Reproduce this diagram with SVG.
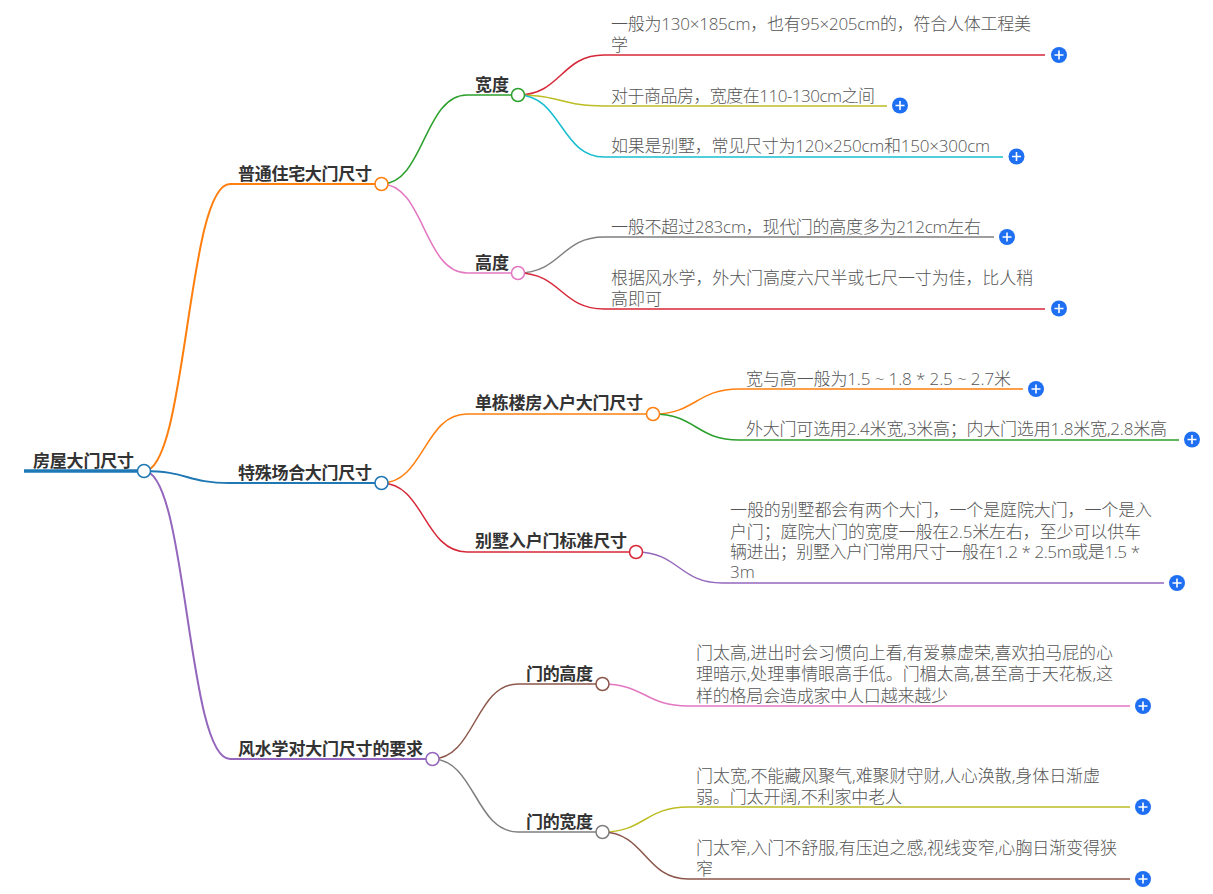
<svg xmlns="http://www.w3.org/2000/svg" width="1213" height="894" viewBox="0 0 1213 894">
<style>
text{font-family:"Open Sans","Noto Sans CJK SC",sans-serif;fill:#333}
.b{font-size:17px;font-weight:700}
.l{font-size:17px;font-weight:300;fill:#555}
.c path{fill:none;stroke-width:1.5}
.k{fill:#fff;stroke-width:1.5}
.p{fill:#1f6ff2}
.w{stroke:#fff;stroke-width:1.6;fill:none}
</style>
<defs><g id="plus"><circle class="p" r="8"/><path class="w" d="M-4.5 0H4.5M0 -4.5V4.5"/></g></defs>
<g id="connectors" class="c">
<path d="M24 471H144" stroke="#1f77b4" style="stroke-width:3.5"/>
<path d="M144 471C187 471 187 184 230 184H381" stroke="#ff7f0e" style="stroke-width:2"/>
<path d="M144 471C187 471 187 483 230 483H381" stroke="#1f77b4" style="stroke-width:2"/>
<path d="M144 471C187 471 187 759 230 759H432" stroke="#9467bd" style="stroke-width:2"/>
<path d="M381.500 184C424 184 424 95 467 95H518" stroke="#2ca02c"/>
<path d="M381.500 184C424 184 424 273 467 273H518" stroke="#e377c2"/>
<path d="M381.500 483C424 483 424 414 467 414H653" stroke="#ff7f0e"/>
<path d="M381.500 483C424 483 424 552 467 552H636" stroke="#d62738"/>
<path d="M432 759C475 759 475 684 518 684H602" stroke="#8c564b"/>
<path d="M432 759C475 759 475 832 518 832H602" stroke="#7f7f7f"/>
<path d="M518 95C561 95 561 55 604 55H1045" stroke="#d62738"/>
<path d="M518 95C561 95 561 106 604 106H887" stroke="#bcbd22"/>
<path d="M518 95C561 95 561 157 604 157H1003" stroke="#17becf"/>
<path d="M518 273C561 273 561 237 604 237H994" stroke="#7f7f7f"/>
<path d="M518 273C561 273 561 309 604 309H1045" stroke="#d62738"/>
<path d="M653 414C696 414 696 389 739 389H1023" stroke="#ff7f0e"/>
<path d="M653 414C696 414 696 440 739 440H1179" stroke="#2ca02c"/>
<path d="M636 552C679 552 679 583 722 583H1164" stroke="#9467bd"/>
<path d="M602 684C645 684 645 706 688 706H1130" stroke="#e377c2"/>
<path d="M602 832C645 832 645 807 688 807H1130" stroke="#bcbd22"/>
<path d="M602 832C645 832 645 879 688 879H1130" stroke="#8c564b"/>
</g>
<g id="root"><text class="b" x="33" y="467" textLength="101">房屋大门尺寸</text><circle class="k" cx="144" cy="471" r="6.500" stroke="#1f77b4"/></g>
<g id="n1"><text class="b" x="238" y="180" textLength="134">普通住宅大门尺寸</text><circle class="k" cx="381.500" cy="184" r="6.500" stroke="#ff7f0e"/></g>
<g id="n2"><text class="b" x="238" y="479" textLength="134">特殊场合大门尺寸</text><circle class="k" cx="381.500" cy="483" r="6.500" stroke="#1f77b4"/></g>
<g id="n3"><text class="b" x="238" y="755" textLength="185">风水学对大门尺寸的要求</text><circle class="k" cx="432.500" cy="759" r="6.500" stroke="#9467bd"/></g>
<g id="n4"><text class="b" x="475" y="91" textLength="34">宽度</text><circle class="k" cx="518" cy="95" r="6.500" stroke="#2ca02c"/></g>
<g id="n5"><text class="b" x="475" y="269" textLength="34">高度</text><circle class="k" cx="518" cy="273" r="6.500" stroke="#e377c2"/></g>
<g id="n6"><text class="b" x="475" y="409" textLength="168">单栋楼房入户大门尺寸</text><circle class="k" cx="653" cy="414" r="6.500" stroke="#ff7f0e"/></g>
<g id="n7"><text class="b" x="475" y="547" textLength="152">别墅入户门标准尺寸</text><circle class="k" cx="636" cy="552" r="6.500" stroke="#d62738"/></g>
<g id="n8"><text class="b" x="526" y="680" textLength="67">门的高度</text><circle class="k" cx="602.500" cy="684" r="6.500" stroke="#8c564b"/></g>
<g id="n9"><text class="b" x="526" y="828" textLength="67">门的宽度</text><circle class="k" cx="602.500" cy="832" r="6.500" stroke="#7f7f7f"/></g>
<g id="l1"><text class="l" x="611" y="30" textLength="420">一般为130×185cm，也有95×205cm的，符合人体工程美</text><text class="l" x="611" y="51">学</text><use href="#plus" x="1059" y="55"/></g>
<g id="l2"><text class="l" x="611" y="102" textLength="264">对于商品房，宽度在110-130cm之间</text><use href="#plus" x="900" y="105.500"/></g>
<g id="l3"><text class="l" x="611" y="152" textLength="379">如果是别墅，常见尺寸为120×250cm和150×300cm</text><use href="#plus" x="1016.500" y="156.500"/></g>
<g id="l4"><text class="l" x="611" y="233" textLength="370">一般不超过283cm，现代门的高度多为212cm左右</text><use href="#plus" x="1007" y="237"/></g>
<g id="l5"><text class="l" x="611" y="284" textLength="422">根据风水学，外大门高度六尺半或七尺一寸为佳，比人稍</text><text class="l" x="611" y="305">高即可</text><use href="#plus" x="1059" y="308.500"/></g>
<g id="l6"><text class="l" x="746" y="385" textLength="265">宽与高一般为1.5 ~ 1.8 * 2.5 ~ 2.7米</text><use href="#plus" x="1036" y="389"/></g>
<g id="l7"><text class="l" x="746" y="435" textLength="421">外大门可选用2.4米宽,3米高；内大门选用1.8米宽,2.8米高</text><use href="#plus" x="1192" y="439.500"/></g>
<g id="l8"><text class="l" x="730" y="516" textLength="422">一般的别墅都会有两个大门，一个是庭院大门，一个是入</text><text class="l" x="730" y="538" textLength="411">户门；庭院大门的宽度一般在2.5米左右，至少可以供车</text><text class="l" x="730" y="558" textLength="410">辆进出；别墅入户门常用尺寸一般在1.2 * 2.5m或是1.5 *</text><text class="l" x="730" y="578">3m</text><use href="#plus" x="1177" y="583"/></g>
<g id="l9"><text class="l" x="696" y="659" textLength="417">门太高,进出时会习惯向上看,有爱慕虚荣,喜欢拍马屁的心</text><text class="l" x="696" y="680" textLength="417">理暗示,处理事情眼高手低。门楣太高,甚至高于天花板,这</text><text class="l" x="696" y="702" textLength="252">样的格局会造成家中人口越来越少</text><use href="#plus" x="1143" y="706"/></g>
<g id="l10"><text class="l" x="696" y="782" textLength="404">门太宽,不能藏风聚气,难聚财守财,人心涣散,身体日渐虚</text><text class="l" x="696" y="803" textLength="206">弱。门太开阔,不利家中老人</text><use href="#plus" x="1143" y="807"/></g>
<g id="l11"><text class="l" x="696" y="854" textLength="421">门太窄,入门不舒服,有压迫之感,视线变窄,心胸日渐变得狭</text><text class="l" x="696" y="875">窄</text><use href="#plus" x="1143" y="879"/></g>
</svg>
